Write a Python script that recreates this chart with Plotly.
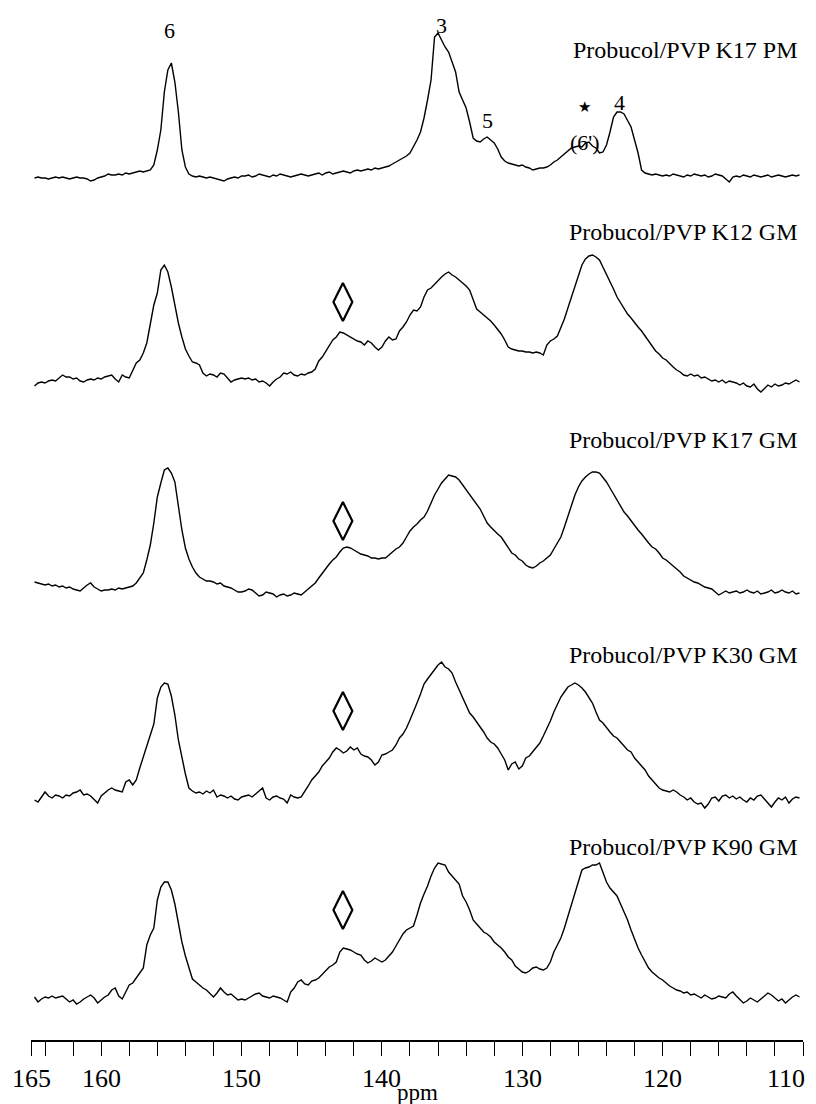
import numpy as np
import plotly.graph_objects as go

# chemical-shift sampling grid (ppm), 0.25 ppm steps
PPM = np.round(164.75 - 0.25 * np.arange(219), 2)

K17_PM = ([2,3,2,2,1,2,3,2,3,2,1,2,3,2,2,1,-1,0,2,3]
          + [4,6,5,5,6,5,7,6,7,8,9,8,9,10,15,30,50,88,110,117]
          + [98,68,30,13,6,4,3,4,3,2,3,2,1,0,-1,1,2,3,2,4]
          + [4,5,3,4,6,5,4,3,5,4,6,5,4,3,4,5,6,5,4,5]
          + [6,7,5,7,8,6,7,8,9,8,7,9,10,9,10,11,10,12,11,12]
          + [13,14,16,18,20,22,24,27,33,40,48,62,80,100,143,147,140,133,128,118]
          + [108,88,80,72,58,42,39,38,41,43,40,37,31,23,19,17,16,15,14,15]
          + [13,12,10,11,12,12,13,15,18,20,23,26,29,32,33,34,33,37,38,34]
          + [32,27,28,35,48,63,68,68,66,60,53,40,27,10,7,6,5,6,5,4]
          + [5,4,6,5,4,3,5,4,6,5,4,5,3,4,6,5,4,1,-2,3]
          + [4,3,5,4,3,5,4,3,4,5,3,4,5,4,3,4,5,4,5])

K12_GM = ([-1,2,3,2,4,5,4,7,10,8,8,6,7,4,3,5,6,5,7,6]
          + [8,9,10,6,3,10,8,7,14,22,25,32,42,60,80,92,115,120,113,98]
          + [80,62,48,36,29,23,22,20,12,9,11,10,8,12,11,7,3,5,6,7]
          + [6,7,5,6,3,4,2,-1,3,6,8,12,11,13,10,9,11,10,12,13]
          + [16,24,28,34,40,45,48,53,52,50,48,46,44,43,40,44,42,38,35,38]
          + [44,48,45,46,54,58,63,70,75,74,78,88,95,97,101,104,108,111,113,110]
          + [108,105,102,99,95,85,76,73,70,67,64,60,56,51,45,38,36,35,34,34]
          + [33,33,32,33,32,30,40,44,46,49,57,66,77,88,99,110,120,126,129,130]
          + [128,125,118,111,103,96,88,82,77,71,67,62,58,54,49,44,40,34,31,27]
          + [25,21,18,15,13,10,9,11,9,10,7,8,6,4,5,3,5,2,4,3]
          + [2,0,2,-1,-2,1,-4,-7,-3,0,-2,1,-1,0,2,1,3,5,3])

K17_GM = ([13,12,11,10,11,9,10,8,9,7,8,6,5,4,7,10,12,8,6,4]
          + [5,5,6,5,7,6,7,8,9,12,17,22,35,50,72,98,112,125,127,122]
          + [113,89,65,47,36,28,22,18,16,14,14,13,11,12,9,8,7,5,3,3]
          + [4,6,5,2,-1,0,3,2,1,-2,0,1,-1,0,2,1,0,3,6,9]
          + [12,17,22,27,31,35,38,43,47,48,47,45,43,41,40,39,37,37,36,37]
          + [37,40,43,46,48,52,58,64,68,71,75,78,84,92,100,106,112,116,120,119]
          + [118,115,110,106,100,95,90,86,79,72,68,64,61,58,53,47,42,40,36,34]
          + [30,28,27,29,32,34,37,40,46,52,58,68,79,90,100,108,114,118,121,123]
          + [123,122,118,113,107,101,95,89,83,79,74,69,65,61,56,52,48,46,42,37]
          + [35,32,29,26,23,19,17,15,13,12,10,8,7,6,3,0,2,4,2,3]
          + [4,2,3,5,3,2,4,1,2,3,5,2,3,5,3,2,4,1,2])

K30_GM = ([0,-2,3,8,4,2,5,4,2,5,4,7,8,10,5,6,4,0,-3,4]
          + [7,10,12,10,9,8,18,20,15,20,32,43,55,66,76,102,113,117,116,104]
          + [85,60,42,26,12,9,7,8,6,9,7,10,3,5,4,2,4,1,0,3]
          + [4,5,3,6,9,12,2,0,3,4,2,1,-3,5,3,2,3,8,14,20]
          + [24,28,34,38,42,48,52,50,47,49,53,50,52,46,44,43,40,35,38,45]
          + [46,48,50,55,62,66,72,80,88,97,106,116,121,126,130,135,138,133,131,127]
          + [118,110,102,94,87,83,78,74,68,62,58,56,52,46,40,30,36,38,31,34]
          + [42,44,48,52,57,64,71,79,88,96,103,108,113,115,117,115,112,108,103,97]
          + [88,80,77,72,68,64,62,58,54,50,48,42,38,34,30,24,20,17,12,10]
          + [9,8,10,8,5,3,0,2,-2,-4,-3,-8,-4,2,3,-1,4,5,2,4]
          + [1,3,0,-2,2,0,4,5,1,-3,-7,-2,2,0,3,-3,1,3,2])

K90_GM = ([3,-2,1,3,2,4,2,3,4,1,-2,0,-4,-2,1,3,5,2,-3,0]
          + [3,5,10,12,4,1,8,15,17,22,26,32,55,65,72,100,113,118,118,110]
          + [96,78,58,44,32,21,18,15,12,10,6,3,7,12,8,5,6,3,0,1]
          + [0,2,4,6,7,4,3,2,4,3,2,0,-2,8,12,18,20,16,15,19]
          + [20,22,26,30,33,35,38,48,52,51,50,48,46,45,40,37,39,42,40,38]
          + [40,44,48,54,60,66,70,72,74,85,97,106,114,124,132,137,136,135,128,124]
          + [120,116,104,98,90,80,76,72,68,66,63,58,55,52,48,43,40,34,31,28]
          + [27,29,32,33,31,30,32,38,48,55,62,72,84,96,106,118,130,132,133,135]
          + [135,137,128,118,112,108,104,96,88,80,70,60,52,45,38,32,28,25,22,20]
          + [17,14,12,10,9,7,8,5,6,4,2,5,3,1,2,4,3,2,6,8]
          + [4,0,-3,-1,2,0,-2,1,4,7,5,2,-1,1,-3,0,3,5,3])

SPECTRA = [K17_PM, K12_GM, K17_GM, K30_GM, K90_GM]
SAMPLE_NAMES = ["Probucol/PVP K17 PM", "Probucol/PVP K12 GM", "Probucol/PVP K17 GM",
                "Probucol/PVP K30 GM", "Probucol/PVP K90 GM"]

# stacking offsets (layout) and label placement
OFFSETS = [860, 655, 445, 240, 40]
NAME_HEIGHTS = [130, 153, 155, 145, 153]
NAME_PPM = 110.3

DIAMOND_PPM = 142.78
DIAMOND_HEIGHTS = [None, 83, 74, 89, 90]

PEAK_TEXT = ["6", "3", "5", "★", "(6')", "4"]
PEAK_PPM = [155.1, 135.73, 132.45, 125.54, 125.54, 123.05]
PEAK_HEIGHTS = [150, 155, 60, 73, 38, 78]

TICK_VALS = [165] + list(range(164, 108, -2))
TICK_LABELED = [165, 160, 150, 140, 130, 120, 110]

SERIF = "Liberation Serif, Times New Roman, serif"

fig = go.Figure()
for spec, off in zip(SPECTRA, OFFSETS):
    fig.add_trace(go.Scatter(x=PPM, y=np.array(spec) + off, mode="lines",
                             line=dict(color="black", width=1.4),
                             showlegend=False, hoverinfo="skip"))

dx, dy = [], []
for h, off in zip(DIAMOND_HEIGHTS, OFFSETS):
    if h is not None:
        dx.append(DIAMOND_PPM)
        dy.append(h + off)
fig.add_trace(go.Scatter(x=dx, y=dy, mode="markers",
                         marker=dict(symbol="diamond-tall-open", size=27,
                                     color="black", line=dict(color="black", width=2.2)),
                         showlegend=False, hoverinfo="skip", cliponaxis=False))

annotations = []
for name, h, off in zip(SAMPLE_NAMES, NAME_HEIGHTS, OFFSETS):
    annotations.append(dict(x=NAME_PPM, y=h + off, xref="x", yref="y", text=name,
                            showarrow=False, xanchor="right", yanchor="middle",
                            font=dict(family=SERIF, size=24, color="black")))
for t, p, h in zip(PEAK_TEXT, PEAK_PPM, PEAK_HEIGHTS):
    fs = 15 if t == "★" else 22
    fam = "DejaVu Sans" if t == "★" else SERIF
    annotations.append(dict(x=p, y=h + OFFSETS[0], xref="x", yref="y", text=t,
                            showarrow=False, xanchor="center", yanchor="middle",
                            font=dict(family=fam, size=fs, color="black")))

# tick labels drawn as annotations so the last one can stay inside the page
for v in TICK_LABELED:
    last = v == TICK_LABELED[-1]
    annotations.append(dict(x=v, y=-0.038, xref="x", yref="paper", text=str(v),
                            showarrow=False, yanchor="middle",
                            xanchor="right" if last else "center",
                            xshift=4 if last else 0,
                            font=dict(family=SERIF, size=26, color="black")))
annotations.append(dict(x=0.5, y=-0.0655, xref="paper", yref="paper", text="ppm",
                        showarrow=False, xanchor="center", yanchor="bottom",
                        font=dict(family=SERIF, size=23, color="black")))

# page body has an 8px default margin, so the margins below are reduced by it
fig.update_layout(
    width=816, height=1104,
    margin=dict(l=23, r=21, t=12, b=72, autoexpand=False),
    paper_bgcolor="white", plot_bgcolor="white",
    annotations=annotations,
    xaxis=dict(range=[165, 110], showgrid=False, zeroline=False, automargin=False,
               showline=True, linecolor="black", linewidth=1.5,
               ticks="outside", ticklen=14, tickwidth=1.2, tickcolor="black",
               tickvals=TICK_VALS, showticklabels=False),
    yaxis=dict(range=[0, 1020], visible=False, automargin=False),
)

fig.write_html("out.html")
